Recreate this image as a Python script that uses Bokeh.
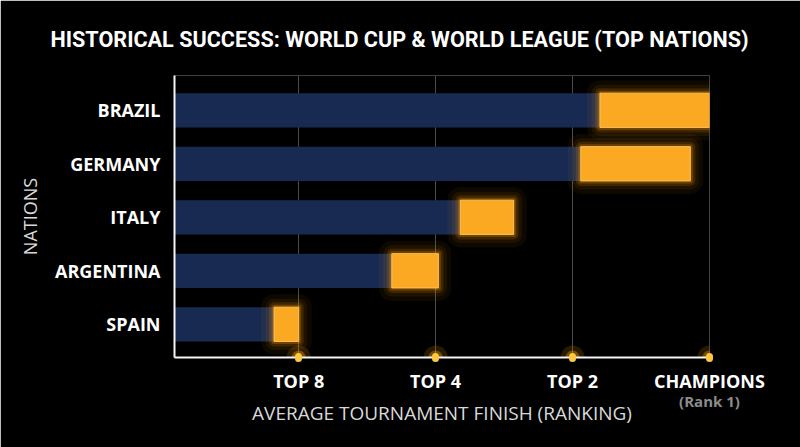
from bokeh.plotting import figure
from bokeh.models import FixedTicker, Range1d, LinearAxis, Title
from bokeh.embed import file_html
from bokeh.resources import INLINE

# ---- data ----
nations = ["BRAZIL", "GERMANY", "ITALY", "ARGENTINA", "SPAIN"]
avg_level = [3.20, 3.06, 2.18, 1.68, 0.82]    # end of navy bar
best_level = [4.00, 3.86, 2.57, 2.02, 1.00]   # end of orange bar
tick_values = [1, 2, 3, 4]
tick_labels = ["TOP 8", "TOP 4", "TOP 2", "CHAMPIONS"]
sub_label = "(Rank 1)"

ypos = [len(nations) - 1 - i for i in range(len(nations))]

FONT = "Open Sans"
NAVY = "#182a52"
ORANGE = "#fba822"

p = figure(width=800, height=447, output_backend="svg", toolbar_location=None,
           x_range=Range1d(0.093, 4.0), y_range=Range1d(-0.62, 4.65),
           min_border_left=174, min_border_right=91, min_border_top=75, min_border_bottom=90)
p.background_fill_color = "#000000"
p.border_fill_color = "#000000"
p.outline_line_color = None

# navy bars
p.hbar(y=ypos, left=0, right=avg_level, height=0.64, fill_color=NAVY, line_color=None)

# orange glow layers
for lw, a in [(26, 0.05), (17, 0.08), (10, 0.14), (5, 0.25)]:
    p.hbar(y=ypos, left=avg_level, right=best_level, height=0.64, fill_color=None,
           line_color="#ff9a00", line_alpha=a, line_width=lw, line_join="round")
p.hbar(y=ypos, left=avg_level, right=best_level, height=0.64, fill_color=ORANGE,
       line_color="#ffc35a", line_width=1)

# glow dots on axis
p.scatter(x=tick_values, y=[-0.62] * 4, size=24, fill_color="#ff9a00", fill_alpha=0.16, line_color=None)
p.scatter(x=tick_values, y=[-0.62] * 4, size=14, fill_color="#ffb300", fill_alpha=0.35, line_color=None)

# grid
p.ygrid.grid_line_color = None
p.xgrid.ticker = FixedTicker(ticks=tick_values)
p.xgrid.grid_line_color = "#4a4a4a"
p.xgrid.grid_line_width = 1

# x axis
xa = p.xaxis[0]
xa.ticker = FixedTicker(ticks=tick_values)
xa.major_label_overrides = {v: l for v, l in zip(tick_values, tick_labels)}
xa.axis_line_color = "#f5f5f5"
xa.axis_line_width = 2
xa.major_tick_line_color = "#ffc640"
xa.major_tick_line_width = 7
xa.major_tick_line_cap = "round"
xa.major_tick_in = 1
xa.major_tick_out = 1
xa.minor_tick_line_color = None
xa.major_label_text_color = "#ffffff"
xa.major_label_text_font = FONT
xa.major_label_text_font_style = "bold"
xa.major_label_text_font_size = "18px"
xa.major_label_standoff = 10

# second axis below: "(Rank 1)" sub label + axis title
xb = LinearAxis(ticker=FixedTicker(ticks=[tick_values[-1]]),
                major_label_overrides={tick_values[-1]: sub_label})
xb.axis_line_color = None
xb.major_tick_line_color = None
xb.minor_tick_line_color = None
xb.major_tick_in = 0
xb.major_tick_out = 0
xb.major_label_standoff = -5
xb.major_label_text_color = "#8c8c8c"
xb.major_label_text_font = FONT
xb.major_label_text_font_style = "bold"
xb.major_label_text_font_size = "15px"
xb.axis_label = "AVERAGE TOURNAMENT FINISH (RANKING)"
xb.axis_label_text_color = "#d9d9d9"
xb.axis_label_text_font = FONT
xb.axis_label_text_font_style = "normal"
xb.axis_label_text_font_size = "19px"
xb.axis_label_standoff = -14
p.add_layout(xb, "below")

# y axis
ya = p.yaxis[0]
ya.ticker = FixedTicker(ticks=ypos)
ya.major_label_overrides = {y: n for y, n in zip(ypos, nations)}
ya.axis_line_color = "#f5f5f5"
ya.axis_line_width = 2
ya.major_tick_line_color = None
ya.minor_tick_line_color = None
ya.major_tick_in = 0
ya.major_tick_out = 0
ya.major_label_text_color = "#ffffff"
ya.major_label_text_font = FONT
ya.major_label_text_font_style = "bold"
ya.major_label_text_font_size = "18px"
ya.major_label_standoff = 14
ya.axis_label = "NATIONS"
ya.axis_label_text_color = "#d9d9d9"
ya.axis_label_text_font = FONT
ya.axis_label_text_font_style = "normal"
ya.axis_label_text_font_size = "18px"
ya.axis_label_standoff = 10

# title
p.add_layout(Title(text="HISTORICAL SUCCESS: WORLD CUP & WORLD LEAGUE (TOP NATIONS)",
                   align="left", offset=-124, standoff=47, text_color="#ffffff",
                   text_font="Roboto", text_font_style="bold", text_font_size="21.6px"), "above")

open("out.html", "w").write(file_html(p, INLINE))
